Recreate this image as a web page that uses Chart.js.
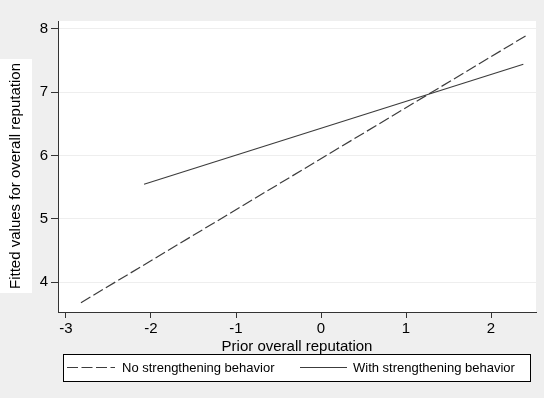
<!DOCTYPE html>
<html lang="en">
<head>
  <meta charset="UTF-8">
  <title>Fitted values for overall reputation</title>
  <script src="https://cdn.jsdelivr.net/npm/chart.js"></script>
  <style>
    html, body {
      margin: 0;
      padding: 0;
      background: #efefef;
    }
    #chartBox {
      width: 544px;
      height: 398px;
      position: relative;
    }
  </style>
</head>
<body>
  <div id="chartBox">
    <canvas id="fitChart"></canvas>
  </div>

  <script>
    // fitted lines (x = prior reputation, y = fitted value)
    const noStrengthX = [-2.824, 2.439];
    const noStrengthY = [3.673, 7.916];
    const withStrengthX = [-2.082, 2.38];
    const withStrengthY = [5.545, 7.442];

    const xTicks = [-3, -2, -1, 0, 1, 2];
    const yTicks = [4, 5, 6, 7, 8];

    const seriesLabels = ['No strengthening behavior', 'With strengthening behavior'];
    const xTitle = 'Prior overall reputation';
    const yTitle = 'Fitted values for overall reputation';

    const FONT = '"Liberation Sans", Arial, sans-serif';
    const LINE = '#3c3c3c';

    // gray page, white plot region and the white box behind the y title
    const backgroundPlugin = {
      id: 'backgroundPlugin',
      beforeDraw: (chart) => {
        const ctx = chart.ctx;
        const area = chart.chartArea;
        ctx.save();
        ctx.fillStyle = '#efefef';
        ctx.fillRect(0, 0, chart.width, chart.height);
        ctx.fillStyle = '#ffffff';
        ctx.fillRect(area.left, area.top, area.right - area.left, area.bottom - area.top);
        ctx.fillRect(0, 59, 32, 234);
        ctx.restore();
      }
    };

    // y title and the boxed legend, drawn like Stata does it
    const stataPlugin = {
      id: 'stataPlugin',
      afterDraw: (chart) => {
        const ctx = chart.ctx;
        ctx.save();
        ctx.fillStyle = '#000';
        ctx.font = '15px ' + FONT;
        ctx.textAlign = 'center';
        ctx.textBaseline = 'middle';
        ctx.translate(16, 176);
        ctx.rotate(-Math.PI / 2);
        ctx.fillText(yTitle, 0, 0);
        ctx.restore();

        // legend box
        ctx.save();
        ctx.fillStyle = '#fff';
        ctx.fillRect(63, 354, 467, 27);
        ctx.strokeStyle = '#000';
        ctx.lineWidth = 1;
        ctx.strokeRect(63.5, 354.5, 467, 27);

        const ly = 367.5;
        const items = [
          { x0: 67, x1: 115, tx: 122 },
          { x0: 300, x1: 347, tx: 353 }
        ];
        ctx.font = '13px ' + FONT;
        ctx.textBaseline = 'middle';
        ctx.textAlign = 'left';
        chart.data.datasets.forEach((ds, i) => {
          const it = items[i];
          ctx.beginPath();
          ctx.setLineDash(ds.borderDash || []);
          ctx.strokeStyle = ds.borderColor;
          ctx.lineWidth = ds.borderWidth;
          ctx.moveTo(it.x0, ly);
          ctx.lineTo(it.x1, ly);
          ctx.stroke();
          ctx.setLineDash([]);
          ctx.fillStyle = '#000';
          ctx.fillText(ds.label, it.tx, ly + 1);
        });
        ctx.restore();
      }
    };

    const ctx = document.getElementById('fitChart').getContext('2d');

    const fitChart = new Chart(ctx, {
      type: 'line',
      data: {
        datasets: [
          {
            label: seriesLabels[0],
            data: noStrengthX.map((x, i) => ({ x: x, y: noStrengthY[i] })),
            borderColor: LINE,
            borderWidth: 1.2,
            borderDash: [11, 3.5],
            pointRadius: 0,
            fill: false
          },
          {
            label: seriesLabels[1],
            data: withStrengthX.map((x, i) => ({ x: x, y: withStrengthY[i] })),
            borderColor: LINE,
            borderWidth: 1.2,
            pointRadius: 0,
            fill: false
          }
        ]
      },
      options: {
        responsive: true,
        maintainAspectRatio: false,
        animation: false,
        layout: {
          padding: { top: 21, right: 8, left: 0, bottom: 0 }
        },
        scales: {
          x: {
            type: 'linear',
            position: 'bottom',
            min: -3.094,
            max: 2.529,
            afterBuildTicks: (axis) => {
              axis.ticks = xTicks.map(v => ({ value: v }));
            },
            afterFit: (axis) => {
              axis.height = 86;
            },
            ticks: {
              color: '#000',
              font: { family: FONT, size: 15 },
              padding: 2,
              maxRotation: 0
            },
            grid: {
              drawOnChartArea: false,
              tickLength: 6,
              tickColor: '#333'
            },
            border: { color: '#333', width: 1 },
            title: {
              display: true,
              text: xTitle,
              color: '#000',
              font: { family: FONT, size: 15 },
              padding: { top: 0, bottom: 42 }
            }
          },
          y: {
            type: 'linear',
            position: 'left',
            min: 3.526,
            max: 8.126,
            afterBuildTicks: (axis) => {
              axis.ticks = yTicks.map(v => ({ value: v }));
            },
            afterFit: (axis) => {
              axis.width = 58;
            },
            ticks: {
              color: '#000',
              font: { family: FONT, size: 15 },
              padding: 3
            },
            grid: {
              color: '#eeeeee',
              tickLength: 7,
              tickColor: '#333'
            },
            border: { color: '#333', width: 1 }
          }
        },
        plugins: {
          legend: { display: false },
          tooltip: { enabled: false }
        }
      },
      plugins: [backgroundPlugin, stataPlugin]
    });
  </script>
</body>
</html>
